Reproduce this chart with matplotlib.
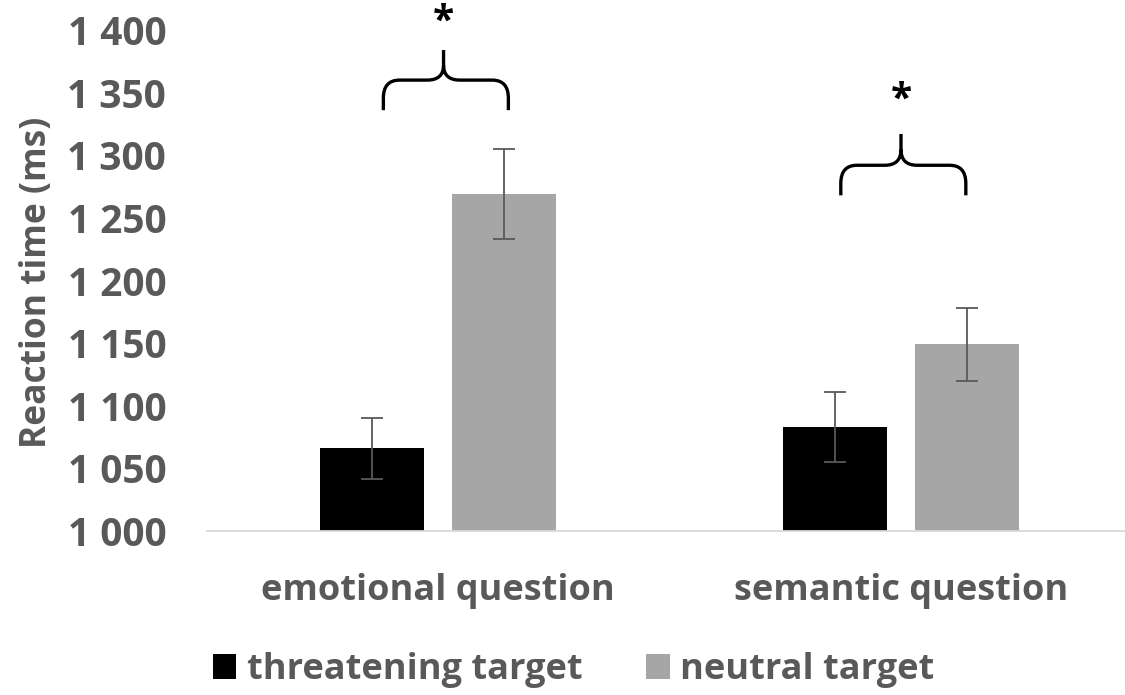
import numpy as np
import matplotlib
matplotlib.use("Agg")
from matplotlib import pyplot as plt
from matplotlib.path import Path
from matplotlib.patches import PathPatch, Patch
from matplotlib.ticker import FuncFormatter

# data
categories = ["emotional question", "semantic question"]
series = ["threatening target", "neutral target"]
threatening = [1066, 1083]
threatening_err = [24.5, 28]
neutral = [1269, 1149]
neutral_err = [36, 29]
# significance braces: (ends, horizontal, tip, star) in ms
brace_levels = [(1336, 1360, 1384, 1406), (1268, 1292, 1317, 1344)]

plt.rcParams['font.family'] = ['Open Sans', 'DejaVu Sans']
TXT = "#595959"

fig = plt.figure(figsize=(11.25, 6.95), dpi=100)
W, H = 1125, 695
ax = fig.add_axes([206.5 / W, (H - 531) / H, 926 / W, 501 / H])

x = np.arange(len(categories))
bw = 0.225
off = 0.143
errkw = dict(ecolor="#595959", elinewidth=1.3, capsize=8, capthick=1.3)
ax.bar(x - off, threatening, bw, yerr=threatening_err, color="black",
       error_kw=errkw, zorder=2)
ax.bar(x + off, neutral, bw, yerr=neutral_err, color="#a6a6a6",
       error_kw=errkw, zorder=2)

ax.set_xlim(-0.5, 1.5)
ax.set_ylim(1000, 1400)
ax.set_yticks(np.arange(1000, 1401, 50))
ax.yaxis.set_major_formatter(FuncFormatter(lambda v, p: f"{int(v):,}".replace(",", " ")))
ax.set_xticks(x)
ax.set_xticklabels(categories)
ax.tick_params(axis="y", length=0, pad=29, labelsize=28, labelcolor=TXT)
ax.tick_params(axis="x", length=0, pad=30, labelsize=26, labelcolor=TXT)
for lab in ax.get_yticklabels() + ax.get_xticklabels():
    lab.set_fontweight("bold")
for s in ["top", "right", "left"]:
    ax.spines[s].set_visible(False)
ax.spines["bottom"].set_color("#d9d9d9")
ax.spines["bottom"].set_linewidth(1.3)
ax.set_ylabel("Reaction time (ms)", fontsize=25.5, fontweight="bold", color=TXT)
ax.yaxis.set_label_coords(-0.164, 0.497)


def brace(cx, left, right, y0, y1, y2):
    # curly brace opening downward, drawn in data coords
    r = 0.035
    ry = (y1 - y0) * 0.6
    verts = [(cx + left, y0), (cx + left, y1 - ry), (cx + left, y1), (cx + left + r, y1),
             (cx - r, y1), (cx, y1), (cx, y1 + (y2 - y1) * 0.5), (cx, y2),
             (cx, y1 + (y2 - y1) * 0.5), (cx, y1), (cx + r, y1),
             (cx + right - r, y1), (cx + right, y1), (cx + right, y1 - ry), (cx + right, y0)]
    codes = [Path.MOVETO, Path.LINETO, Path.CURVE3, Path.CURVE3,
             Path.LINETO, Path.CURVE3, Path.CURVE3, Path.LINETO,
             Path.MOVETO, Path.CURVE3, Path.CURVE3,
             Path.LINETO, Path.CURVE3, Path.CURVE3, Path.LINETO]
    ax.add_patch(PathPatch(Path(verts, codes), fill=False, lw=2.4, color="black",
                           clip_on=False, capstyle="butt", joinstyle="round"))


centers = [0.012, 0.0]
for i, (ye, yh, yt, ys) in enumerate(brace_levels):
    cx = x[i] + centers[i]
    brace(cx, -0.13, 0.14, ye, yh, yt)
    ax.text(cx, ys, "*", ha="center", va="center", fontsize=28, fontweight="bold",
            color="black", clip_on=False)

handles = [Patch(facecolor="black"), Patch(facecolor="#a6a6a6")]
leg = fig.legend(handles, series, loc="center", bbox_to_anchor=(0.510, (H - 670) / H),
                 ncol=2, frameon=False, fontsize=26, handlelength=0.65, handleheight=0.7,
                 handletextpad=0.3, columnspacing=1.75)
for t in leg.get_texts():
    t.set_color(TXT)
    t.set_fontweight("bold")

fig.savefig("out.png", dpi=100)
